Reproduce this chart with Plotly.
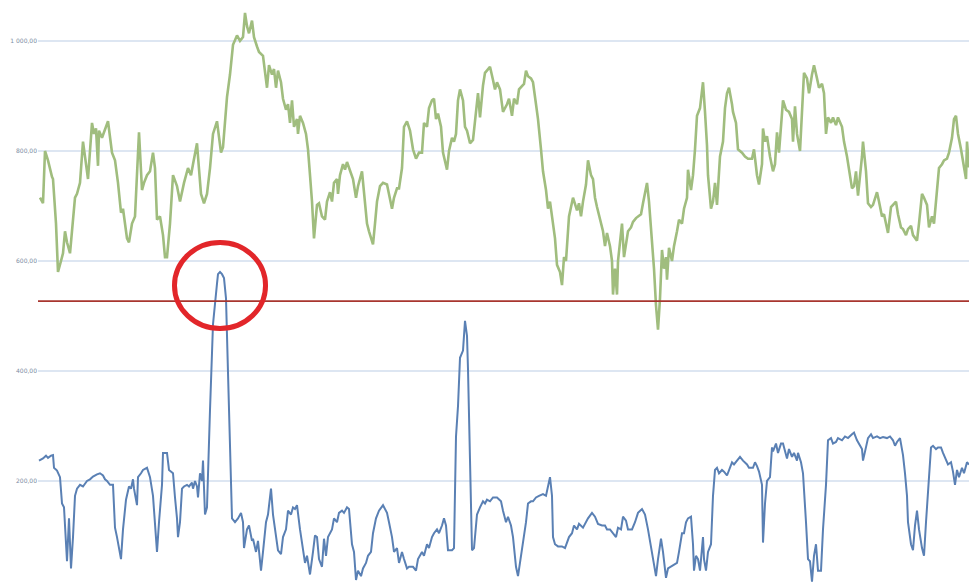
import plotly.graph_objects as go

# ---- green series (sample position, value) ----
green_t = [
    2, 5, 7, 10, 14, 15, 18, 20, 23, 25,
    27, 29, 32, 35, 37, 39, 42, 45, 48, 50,
    54, 56, 58, 60, 61, 64, 66, 70, 74, 77,
    80, 83, 85, 87, 89, 91, 94, 97, 99, 101,
    104, 106, 109, 112, 115, 117, 119, 122, 125, 127,
    129, 132, 135, 139, 142, 146, 150, 153, 155, 159,
    160, 163, 166, 169, 172, 175, 179, 181, 183, 185,
    187, 189, 192, 195, 199, 202, 205, 207, 209, 211,
    214, 216, 219, 221, 225, 227, 229, 231, 234, 236,
    238, 240, 243, 245, 248, 250, 252, 254, 256, 259,
    260, 262, 265, 268, 270, 272, 274, 276, 279, 281,
    284, 287, 289, 292, 294, 296, 299, 300, 302, 305,
    307, 309, 312, 315, 318, 320, 324, 326, 329, 331,
    335, 337, 339, 342, 345, 349, 351, 354, 356, 359,
    361, 364, 366, 369, 372, 375, 378, 381, 384, 386,
    389, 391, 394, 396, 398, 400, 403, 405, 409, 411,
    414, 416, 418, 420, 422, 425, 427, 429, 432, 435,
    438, 440, 442, 445, 447, 449, 452, 455, 457, 459,
    462, 465, 469, 471, 474, 476, 479, 481, 484, 486,
    488, 490, 493, 495, 498, 500, 503, 505, 508, 510,
    512, 515, 517, 519, 522, 524, 526, 528, 530, 531,
    535, 537, 539, 541, 543, 545, 548, 550, 553, 555,
    557, 559, 562, 565, 567, 569, 572, 574, 575, 577,
    579, 580, 582, 584, 586, 588, 590, 593, 595, 598,
    600, 603, 605, 609, 611, 614, 616, 618, 620, 622,
    624, 626, 628, 629, 631, 634, 636, 639, 641, 644,
    646, 649, 650, 653, 655, 657, 659, 662, 665, 667,
    669, 670, 673, 675, 677, 679, 682, 685, 687, 689,
    691, 694, 695, 698, 700, 704, 707, 710, 714, 716,
    719, 721, 724, 725, 727, 729, 732, 735, 737, 739,
    741, 745, 748, 751, 754, 755, 757, 759, 762, 764,
    766, 769, 771, 774, 776, 779, 781, 784, 786, 788,
    790, 793, 795, 798, 800, 804, 806, 809, 811, 814,
    816, 818, 820, 822, 824, 825, 828, 830, 833, 835,
    839, 841, 844, 846, 848, 850, 853, 855, 858, 860,
    863, 865, 868, 870, 873, 875, 877, 879, 881, 884,
    886, 889, 891, 894, 896, 899, 901, 904, 906, 909,
    911, 914, 916, 918, 920, 923, 925, 928, 929, 931,
]
green_v = [
    715, 705, 800, 783, 753, 749, 668, 580, 600, 614,
    654, 634, 614, 668, 715, 722, 742, 817, 769, 749,
    851, 831, 841, 773, 837, 824, 834, 854, 797, 783,
    742, 688, 695, 668, 641, 634, 668, 681, 763, 834,
    729, 742, 756, 763, 797, 769, 675, 681, 647, 607,
    607, 668, 756, 736, 708, 742, 769, 756, 776, 814,
    790, 722, 705, 722, 769, 831, 854, 820, 797, 807,
    851, 898, 939, 993, 1010, 1000, 1007, 1051, 1027, 1014,
    1037, 1007, 990, 980, 973, 942, 915, 956, 939, 949,
    915, 946, 925, 895, 875, 885, 851, 892, 844, 858,
    831, 864, 851, 831, 803, 756, 708, 641, 702, 705,
    681, 675, 708, 725, 708, 742, 749, 722, 756, 776,
    766, 780, 763, 749, 715, 736, 763, 722, 668, 654,
    630, 668, 708, 736, 742, 739, 722, 695, 715, 732,
    732, 769, 844, 854, 837, 803, 786, 797, 797, 851,
    844, 878, 892, 895, 858, 868, 844, 797, 766, 800,
    824, 817, 831, 892, 912, 892, 844, 837, 814, 820,
    871, 905, 861, 919, 942, 946, 953, 929, 912, 925,
    912, 871, 885, 895, 864, 895, 885, 912, 919, 922,
    946, 936, 932, 925, 885, 858, 803, 763, 729, 695,
    708, 668, 641, 593, 580, 556, 607, 600, 654, 681,
    715, 705, 692, 705, 681, 708, 739, 783, 756, 749,
    715, 698, 675, 654, 627, 651, 627, 600, 539, 586,
    539, 600, 634, 668, 607, 627, 654, 661, 671, 678,
    681, 685, 705, 742, 708, 641, 586, 519, 475, 532,
    620, 586, 607, 566, 624, 600, 627, 654, 675, 668,
    695, 715, 766, 729, 756, 803, 864, 878, 925, 871,
    810, 756, 695, 708, 742, 702, 790, 817, 878, 905,
    915, 885, 871, 851, 803, 797, 790, 786, 786, 803,
    756, 739, 776, 841, 817, 827, 790, 763, 776, 834,
    797, 892, 875, 871, 858, 817, 881, 831, 800, 871,
    942, 932, 905, 939, 956, 932, 915, 922, 905, 831,
    861, 851, 861, 847, 861, 844, 817, 790, 769, 732,
    736, 763, 719, 749, 790, 817, 763, 705, 698, 702,
    725, 708, 681, 685, 668, 651, 698, 702, 708, 685,
    661, 658, 647, 658, 664, 647, 641, 637, 668, 722,
    715, 702, 661, 681, 668, 722, 769, 776, 783, 786,
    797, 824, 858, 864, 831, 803, 783, 749, 817, 770,
]

# ---- blue series ----
blue_t = [
    1, 5, 8, 10, 13, 15, 16, 19, 22, 24,
    26, 28, 29, 31, 33, 35, 37, 39, 42, 45,
    49, 52, 55, 59, 62, 65, 67, 69, 72, 75,
    77, 79, 81, 83, 85, 88, 91, 93, 95, 96,
    99, 100, 103, 105, 109, 112, 115, 117, 119, 121,
    124, 125, 129, 131, 135, 137, 139, 140, 142, 144,
    146, 149, 151, 154, 155, 157, 159, 160, 162, 164,
    165, 167, 169, 172, 175, 179, 180, 182, 184, 186,
    188, 190, 192, 194, 197, 200, 203, 205, 206, 209,
    211, 214, 215, 218, 220, 223, 225, 228, 230, 233,
    235, 238, 240, 243, 245, 248, 250, 253, 255, 257,
    259, 262, 265, 267, 269, 272, 275, 277, 279, 281,
    284, 286, 288, 290, 294, 296, 299, 301, 304, 306,
    309, 311, 314, 316, 318, 320, 323, 325, 328, 330,
    333, 335, 338, 341, 345, 349, 351, 354, 356, 359,
    361, 364, 366, 369, 371, 375, 378, 380, 384, 386,
    389, 391, 394, 396, 399, 401, 404, 406, 408, 410,
    414, 416, 418, 420, 422, 425, 427, 429, 430, 432,
    434, 436, 439, 442, 445, 447, 449, 452, 455, 459,
    463, 465, 468, 470, 473, 475, 478, 480, 483, 485,
    488, 490, 493, 495, 498, 501, 505, 508, 510, 512,
    514, 515, 517, 520, 524, 527, 529, 531, 534, 536,
    539, 541, 545, 548, 550, 554, 557, 560, 564, 567,
    569, 572, 575, 578, 580, 583, 585, 588, 590, 594,
    597, 600, 604, 607, 610, 613, 615, 618, 620, 623,
    625, 628, 630, 633, 635, 639, 641, 644, 646, 648,
    650, 653, 655, 656, 658, 660, 662, 665, 666, 668,
    670, 673, 675, 677, 679, 681, 684, 686, 689, 691,
    694, 696, 699, 702, 705, 709, 711, 715, 717, 719,
    721, 724, 725, 727, 729, 732, 734, 735, 738, 740,
    743, 745, 749, 751, 754, 756, 759, 760, 763, 765,
    768, 770, 772, 774, 776, 778, 780, 783, 785, 788,
    790, 793, 795, 798, 800, 804, 807, 810, 814, 816,
    819, 821, 824, 825, 828, 830, 833, 835, 839, 842,
    845, 849, 852, 855, 857, 859, 862, 865, 867, 869,
    870, 873, 875, 877, 879, 881, 884, 886, 888, 890,
    893, 895, 898, 900, 903, 905, 908, 910, 913, 915,
    917, 919, 921, 924, 926, 928, 929, 931,
]
blue_v = [
    237, 241, 246, 242, 246, 247, 224, 219, 207, 159,
    152, 98, 54, 132, 41, 98, 173, 186, 193, 190,
    200, 203, 208, 212, 214, 210, 203, 200, 193, 193,
    115, 98, 81, 58, 112, 166, 190, 186, 203, 186,
    156, 207, 214, 220, 224, 207, 173, 125, 71, 125,
    193, 251, 251, 220, 214, 170, 132, 98, 125, 186,
    190, 193, 190, 197, 186, 200, 190, 170, 214, 200,
    237, 139, 152, 329, 485, 559, 576, 580, 576, 569,
    532, 397, 261, 132, 125, 132, 142, 125, 78, 112,
    119, 91, 95, 71, 91, 37, 71, 125, 139, 186,
    139, 98, 74, 67, 98, 112, 146, 139, 152, 149,
    156, 112, 71, 51, 64, 30, 71, 101, 98, 58,
    44, 95, 64, 98, 112, 132, 125, 142, 146, 142,
    152, 149, 85, 71, 20, 37, 27, 41, 51, 64,
    71, 105, 132, 146, 156, 142, 125, 98, 71, 78,
    51, 71, 58, 41, 44, 44, 37, 58, 71, 64,
    85, 78, 98, 105, 112, 105, 119, 132, 119, 74,
    74, 78, 281, 336, 424, 437, 491, 464, 403, 261,
    74, 78, 139, 152, 163, 159, 166, 163, 170, 170,
    163, 146, 125, 135, 119, 98, 44, 27, 64, 81,
    125, 159, 163, 163, 170, 173, 176, 173, 193, 207,
    173, 98, 85, 81, 81, 78, 88, 98, 105, 119,
    112, 122, 115, 125, 132, 142, 135, 122, 119, 119,
    112, 112, 105, 98, 115, 112, 135, 128, 112, 112,
    125, 142, 149, 139, 112, 78, 58, 27, 58, 95,
    71, 24, 41, 44, 47, 51, 71, 105, 105, 125,
    132, 135, 85, 37, 64, 58, 37, 98, 58, 37,
    71, 85, 173, 220, 224, 214, 220, 217, 210, 220,
    234, 230, 237, 244, 237, 230, 224, 224, 234, 227,
    217, 193, 88, 159, 200, 207, 261, 254, 268, 251,
    268, 268, 241, 258, 244, 251, 237, 251, 234, 214,
    125, 58, 54, 17, 64, 85, 37, 37, 112, 193,
    274, 278, 268, 271, 278, 274, 281, 278, 285, 288,
    274, 268, 258, 237, 261, 278, 285, 278, 281, 278,
    280, 278, 281, 274, 264, 271, 278, 247, 214, 173,
    125, 85, 74, 119, 146, 112, 78, 64, 125, 186,
    261, 264, 258, 261, 261, 251, 237, 230, 234, 217,
    193, 220, 207, 224, 214, 227, 234, 230,
]

threshold = 527
tick_vals = [200, 400, 600, 800, 1000]
tick_text = ["200,00", "400,00", "600,00", "800,00", "1 000,00"]

fig = go.Figure()
fig.add_trace(go.Scatter(x=green_t, y=green_v, mode="lines",
                         line=dict(color="#a0bd7e", width=2.6), showlegend=False))
fig.add_trace(go.Scatter(x=blue_t, y=blue_v, mode="lines",
                         line=dict(color="#5a80b4", width=2), showlegend=False))

fig.add_shape(type="line", xref="paper", x0=0, x1=1, yref="y",
              y0=threshold, y1=threshold, line=dict(color="#a8362f", width=1.6))
fig.add_shape(type="circle", xref="paper", yref="paper",
              x0=0.1466, x1=0.2444, y0=0.4375, y1=0.5848,
              line=dict(color="#e2262a", width=5))

fig.update_layout(
    width=969, height=584,
    margin=dict(l=38, r=0, t=0, b=0),
    paper_bgcolor="white", plot_bgcolor="white",
    xaxis=dict(range=[0, 931], showgrid=False, zeroline=False,
               showticklabels=False, showline=False),
    yaxis=dict(range=[12.7, 1074.5], tickvals=tick_vals, ticktext=tick_text,
               showgrid=True, gridcolor="#dde6f2", gridwidth=1.6,
               zeroline=False, showline=False,
               tickfont=dict(size=6, color="#7d8ca3", family="DejaVu Sans")),
)

fig.write_html("out.html", config={"displayModeBar": False},
               post_script="document.body.style.margin='0';document.body.style.overflow='hidden';")
